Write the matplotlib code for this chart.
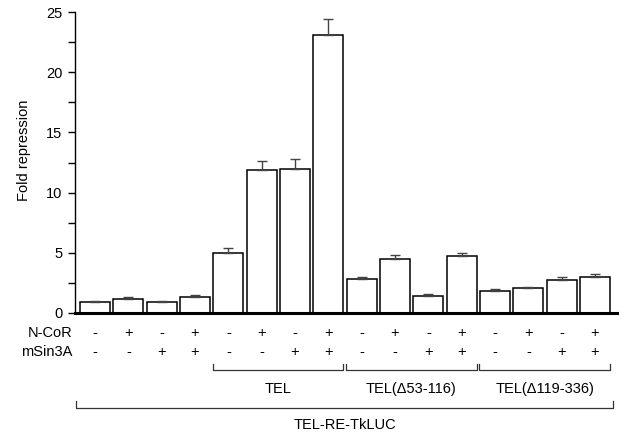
import numpy as np
import matplotlib
matplotlib.use('Agg')
from matplotlib import pyplot as plt

plt.rcParams['font.family'] = ['Liberation Sans', 'DejaVu Sans']

# fold repression for the 16 transfections (4 per construct) + upper error
fold = [0.88, 1.2, 0.88, 1.3,
        5.0, 11.85, 11.93, 23.1,
        2.85, 4.5, 1.4, 4.7,
        1.8, 2.1, 2.75, 3.0]
err = [0.12, 0.09, 0.12, 0.19,
       0.4, 0.75, 0.87, 1.3,
       0.17, 0.3, 0.15, 0.3,
       0.2, 0.05, 0.25, 0.2]
ncor = ['-', '+', '-', '+'] * 4
msin3a = ['-', '-', '+', '+'] * 4
groups = ['TEL', 'TEL(\u039453-116)', 'TEL(\u0394119-336)']
group_start = [4, 8, 12]
reporter = 'TEL-RE-TkLUC'

x = np.arange(len(fold))

fig = plt.figure(figsize=(6.22, 4.32), dpi=100)
ax = fig.add_axes([75/622, 1 - 313/432, 542/622, 301/432])

ax.bar(x, fold, width=0.9, color='white', edgecolor='black', linewidth=1.1)
ax.errorbar(x, fold, yerr=[np.zeros(len(err)), err], fmt='none',
            ecolor='#444444', elinewidth=1.0, capsize=3.6, capthick=1.0)

ax.set_xlim(-0.6, 15.66)
ax.set_ylim(0, 25)
ax.set_yticks([0, 5, 10, 15, 20, 25])
ax.set_yticks(np.arange(2.5, 25, 5), minor=True)
ax.set_xticks([])
ax.tick_params(axis='y', which='both', direction='out', length=5, width=1, labelsize=10.5, pad=4)
for s in ['top', 'right']:
    ax.spines[s].set_visible(False)
ax.spines['bottom'].set_linewidth(2.2)
ax.spines['left'].set_linewidth(1.0)
ax.set_ylabel('Fold repression', fontsize=10.5)
ax.yaxis.set_label_coords(-0.081, 0.54)

tr = ax.get_xaxis_transform()
fs = 10.5
ax.text(-0.004, -0.066, 'N-CoR', transform=ax.transAxes, ha='right', va='center', fontsize=fs)
ax.text(-0.004, -0.13, 'mSin3A', transform=ax.transAxes, ha='right', va='center', fontsize=fs)
for i in x:
    ax.text(i, -0.066, ncor[i], transform=tr, ha='center', va='center', fontsize=fs, clip_on=False)
    ax.text(i, -0.13, msin3a[i], transform=tr, ha='center', va='center', fontsize=fs, clip_on=False)

# construct brackets
for name, s in zip(groups, group_start):
    x0, x1 = s - 0.47, s + 3 + 0.45
    ax.plot([x0, x0, x1, x1], [-0.169, -0.189, -0.189, -0.169], transform=tr,
            color='#333333', lw=0.9, clip_on=False)
    ax.text((x0 + x1) / 2, -0.252, name, transform=tr, ha='center', va='center', fontsize=fs)

# reporter bracket
x0, x1 = -0.57, 15.54
ax.plot([x0, x0, x1, x1], [-0.292, -0.316, -0.316, -0.292], transform=tr,
        color='#333333', lw=0.9, clip_on=False)
ax.text((x0 + x1) / 2, -0.372, reporter, transform=tr, ha='center', va='center', fontsize=fs)

fig.savefig('out.png', dpi=100)
